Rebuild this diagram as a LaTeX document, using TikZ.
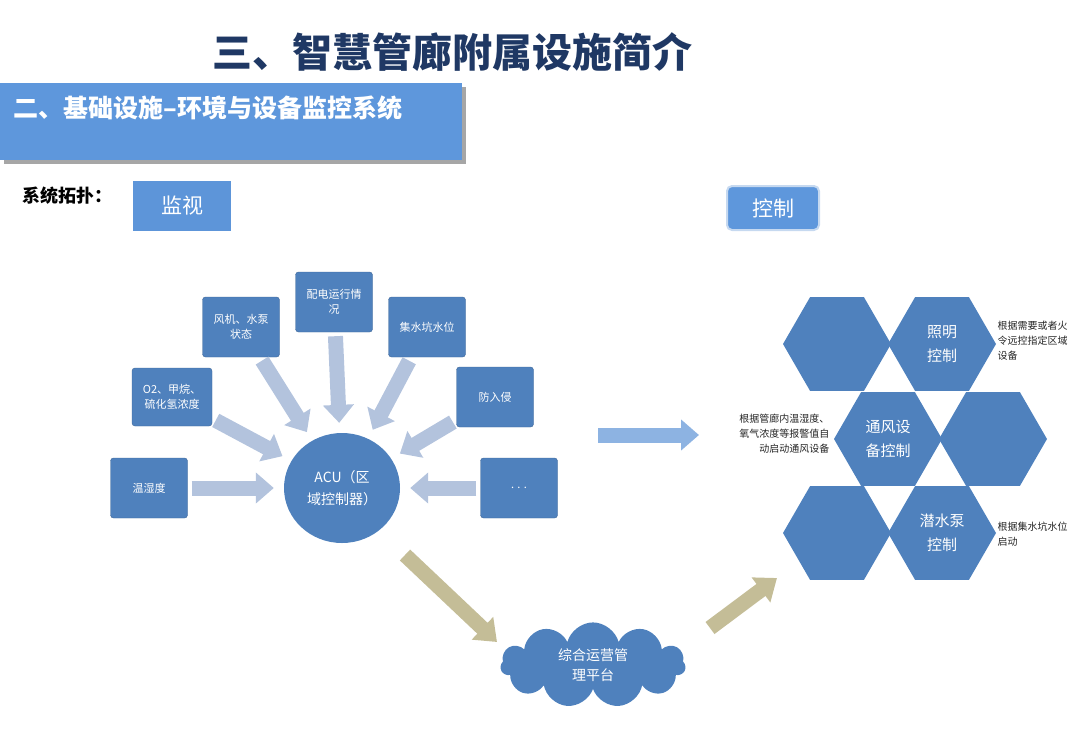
\documentclass[tikz,border=0pt]{standalone}
\usepackage{fontspec}
\setmainfont{Noto Sans CJK SC}
\usetikzlibrary{shapes.geometric,shapes.symbols,arrows.meta,shadows}
\definecolor{nb}{HTML}{4F81BD}
\definecolor{hb}{HTML}{5E97DC}
\definecolor{la}{HTML}{B3C3DD}
\definecolor{ra}{HTML}{8DB3E2}
\definecolor{tan}{HTML}{C4BD97}
\definecolor{navy}{HTML}{1F3864}
\begin{document}
\begin{tikzpicture}[x=1pt,y=-1pt,
 box/.style={draw=nb!80!black,line width=0.4pt,fill=nb,rounded corners=3pt,minimum width=77pt,minimum height=60pt,text=white,font=\fontsize{11}{15}\selectfont,align=center},
 hex/.style={regular polygon,regular polygon sides=6,minimum size=108pt,inner sep=0pt,fill=nb,text=white,font=\fontsize{15}{24}\selectfont,align=center},
 blk/.style={line width=15pt,color=la,-{Triangle[width=30pt,length=18pt]},shorten <=4pt,shorten >=10pt},
 tarr/.style={line width=15pt,color=tan,-{Triangle[width=30pt,length=20pt]}},
 note/.style={font=\fontsize{10}{15}\selectfont,text=black!85}]
\useasboundingbox (0,0) rectangle (1080,748);
\clip (0,0) rectangle (1080,748);
\node (title) at (452,52) {\fontsize{40}{44}\selectfont\bfseries\color{navy}三、智慧管廊附属设施简介};
\fill[black!35] (4,87) rectangle (466,164);
\node[fill=hb,minimum width=462pt,minimum height=77pt,anchor=north west,inner sep=0] (hdr) at (0,83) {};
\node[anchor=west,text=white] (hdrt) at (10,108) {\fontsize{25}{28}\selectfont\bfseries 二、基础设施--环境与设备监控系统};
\node (topo) at (68,196) {\fontsize{18}{20}\selectfont\bfseries 系统拓扑：};
\node[fill=hb!90!nb,minimum width=98pt,minimum height=50pt,text=white,inner sep=0] (jian) at (182,206) {\fontsize{21}{24}\selectfont 监视};
\node[fill=hb,rounded corners=5pt,minimum width=92pt,minimum height=44pt,text=white,inner sep=0,draw=ra!50,line width=2pt] (kong) at (773,208) {\fontsize{21}{24}\selectfont 控制};

\node[ellipse,fill=nb,minimum width=116pt,minimum height=110pt,text=white,align=center,font=\fontsize{14}{22}\selectfont] (acu) at (342,488) {ACU（区\\域控制器）};
\node[box] (b1) at (149,488) {温湿度};
\node[box,minimum width=80pt,minimum height=58pt] (b2) at (172,397) {O2、甲烷、\\硫化氢浓度};
\node[box] (b3) at (241,327) {风机、水泵\\状态};
\node[box] (b4) at (334,302) {配电运行情\\况};
\node[box] (b5) at (427,327) {集水坑水位};
\node[box] (b6) at (495,397) {防入侵};
\node[box] (b7) at (519,488) {. . .};
\foreach \b in {b1,b2,b3,b4,b5,b6,b7} \draw[blk] (\b) -- (acu);

\node[cloud,cloud puffs=11,aspect=2.6,fill=nb,minimum width=185pt,minimum height=80pt,text=white,align=center,font=\fontsize{14}{20}\selectfont] (cloud) at (593,665) {综合运营管\\理平台};
\coordinate (t1s) at (405,555); \coordinate (t1e) at (497,642);
\coordinate (t2s) at (710,628); \coordinate (t2e) at (777,578);
\draw[tarr] (t1s) -- (t1e);
\draw[tarr] (t2s) -- (t2e);
\coordinate (r1) at (598,435); \coordinate (r2) at (699,435);
\draw[line width=15pt,color=ra,-{Triangle[width=30pt,length=18pt]}] (r1) -- (r2);

\node[hex] (h1) at (837,344) {};
\node[hex] (h2) at (942,344) {照明\\控制};
\node[hex] (h3) at (888,439) {通风设\\备控制};
\node[hex] (h4) at (993,439) {};
\node[hex] (h5) at (837,533) {};
\node[hex] (h6) at (942,533) {潜水泵\\控制};

\node[note,anchor=north west,align=left] (n1) at (994,318) {根据需要或者火\\令远控指定区域\\设备};
\node[note,anchor=north east,align=right] (n2) at (833,410) {根据管廊内温湿度、\\氧气浓度等报警值自\\动启动通风设备};
\node[note,anchor=north west,align=left] (n3) at (994,518) {根据集水坑水位\\启动};
\end{tikzpicture}
\end{document}
